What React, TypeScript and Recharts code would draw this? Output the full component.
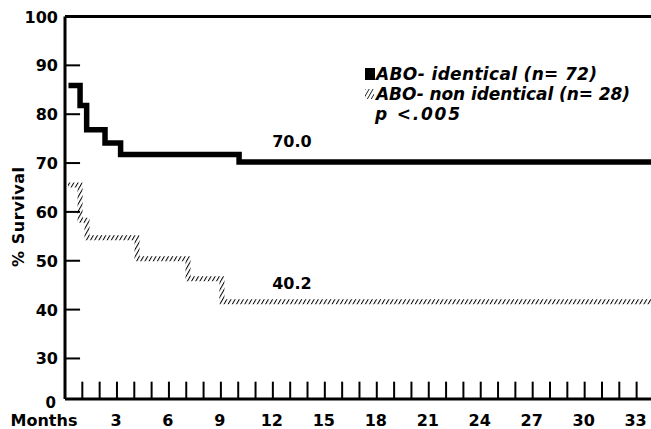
import React from 'react';
import { LineChart, Line, XAxis, YAxis, ReferenceLine, ReferenceDot } from 'recharts';

// survival curves (months, % survival)
const identicalMonths = [0.2, 0.87, 1.25, 2.31, 3.21, 10.05, 33.83];
const identicalSurvival = [85.9, 81.8, 76.8, 74.1, 71.75, 70.2, 70.2];
const nonIdenticalMonths = [0.17, 0.87, 1.27, 4.16, 7.1, 9.06, 33.83];
const nonIdenticalSurvival = [65.5, 58.3, 54.7, 50.4, 46.3, 41.6, 41.6];

const monthTicks = [0, 3, 6, 9, 12, 15, 18, 21, 24, 27, 30, 33];
const monthMarks = [1, 2, 3, 4, 5, 6, 7, 8, 9, 10, 11, 12, 13, 14, 15, 16, 17, 18, 19, 20, 21, 22, 23, 24, 25, 26, 27, 28, 29, 30, 31, 32, 33];
const survivalTicks = [21.7, 30, 40, 50, 60, 70, 80, 90, 100];
const survivalMarks = [30, 40, 50, 60, 70, 80, 90];

const identicalData = identicalMonths.map((m, i) => ({ m, v: identicalSurvival[i] }));
const nonIdenticalData = nonIdenticalMonths.map((m, i) => ({ m, v: nonIdenticalSurvival[i] }));

const FONT = "'DejaVu Sans', sans-serif";
const Y_MIN = 21.7;
const X_MAX = 33.83;

const YTick = (props: any) => {
  const { x, y, payload } = props;
  const isZero = payload.value === Y_MIN;
  return (
    <text
      x={isZero ? x - 2 : x}
      y={isZero ? y + 9 : y + 6}
      textAnchor="end"
      fontFamily={FONT}
      fontWeight="bold"
      fontSize={isZero ? 15 : 16}
      fill="#000"
    >
      {isZero ? '0' : payload.value}
    </text>
  );
};

const XTick = (props: any) => {
  const { x, y, payload } = props;
  const isStart = payload.value === 0;
  return (
    <text
      x={isStart ? x - 21 : x - 1}
      y={y + 27}
      textAnchor="middle"
      fontFamily={FONT}
      fontWeight="bold"
      fontSize={16}
      fill="#000"
    >
      {isStart ? 'Months' : payload.value}
    </text>
  );
};

const labelStyle = {
  fill: '#000',
  fontFamily: FONT,
  fontWeight: 'bold',
  fontSize: 16,
};

export default function App() {
  return (
    <div style={{ position: 'absolute', left: 0, top: 0, width: 651, height: 429, background: '#fff', overflow: 'hidden' }}>
      <LineChart width={651} height={429} data={identicalData} margin={{ top: 16.5, right: 0, bottom: 0, left: 0 }}>
        <defs>
          <pattern id="hatch" patternUnits="userSpaceOnUse" width="3.6" height="3.6" patternTransform="rotate(30)">
            <line x1="0" y1="0" x2="0" y2="3.6" stroke="#000" strokeWidth="2" />
          </pattern>
        </defs>
        <XAxis
          dataKey="m"
          type="number"
          domain={[0, X_MAX]}
          ticks={monthTicks}
          tick={<XTick />}
          tickLine={false}
          tickSize={0}
          tickMargin={0}
          height={30}
          axisLine={{ stroke: '#000', strokeWidth: 3 }}
          allowDataOverflow
        />
        <YAxis
          type="number"
          domain={[Y_MIN, 100]}
          ticks={survivalTicks}
          tick={<YTick />}
          tickLine={false}
          tickSize={0}
          tickMargin={7}
          width={65}
          axisLine={{ stroke: '#000', strokeWidth: 3 }}
          allowDataOverflow
        />
        <ReferenceLine y={100} stroke="#000" strokeWidth={3} />
        {monthMarks.map((m) => (
          <ReferenceLine
            key={'mx' + m}
            segment={[{ x: m, y: Y_MIN }, { x: m, y: Y_MIN + 3.55 }]}
            stroke="#000"
            strokeWidth={2}
          />
        ))}
        {survivalMarks.map((v) => (
          <ReferenceLine
            key={'my' + v}
            segment={[{ x: 0, y: v }, { x: 0.87, y: v }]}
            stroke="#000"
            strokeWidth={2}
          />
        ))}
        <Line
          data={identicalData}
          dataKey="v"
          type="stepAfter"
          stroke="#000"
          strokeWidth={5.5}
          strokeLinejoin="miter"
          strokeLinecap="butt"
          dot={false}
          isAnimationActive={false}
        />
        <Line
          data={nonIdenticalData}
          dataKey="v"
          type="stepAfter"
          stroke="url(#hatch)"
          strokeWidth={5}
          strokeLinejoin="miter"
          strokeLinecap="butt"
          dot={false}
          isAnimationActive={false}
        />
        <ReferenceDot x={13.1} y={74.5} r={0} fill="none" stroke="none" label={{ value: '70.0', position: 'center', ...labelStyle }} />
        <ReferenceDot x={13.1} y={45.4} r={0} fill="none" stroke="none" label={{ value: '40.2', position: 'center', ...labelStyle }} />
      </LineChart>
      <svg width={651} height={429} style={{ position: 'absolute', left: 0, top: 0, pointerEvents: 'none' }}>
        <defs>
          <pattern id="hatchIcon" patternUnits="userSpaceOnUse" width="3.4" height="3.4" patternTransform="rotate(30)">
            <line x1="0" y1="0" x2="0" y2="3.4" stroke="#000" strokeWidth="1.5" />
          </pattern>
        </defs>
        <text
          x={18}
          y={217}
          transform="rotate(-90 18 217)"
          textAnchor="middle"
          dominantBaseline="central"
          fontFamily={FONT}
          fontWeight="bold"
          fontSize={16}
          textLength={100}
          fill="#000"
        >
          % Survival
        </text>
        <rect x={365} y={68} width={10} height={12} fill="#000" />
        <text x={376} y={80} fontFamily={FONT} fontWeight="bold" fontStyle="italic" fontSize={17} textLength={221} fill="#000">
          ABO- identical (n= 72)
        </text>
        <rect x={365} y={89} width={9} height={10} fill="url(#hatchIcon)" />
        <text x={376} y={100} fontFamily={FONT} fontWeight="bold" fontStyle="italic" fontSize={17} textLength={254} fill="#000">
          ABO- non identical (n= 28)
        </text>
        <text x={375} y={120} fontFamily={FONT} fontWeight="bold" fontStyle="italic" fontSize={17} textLength={85} fill="#000">
          p &lt;.005
        </text>
      </svg>
    </div>
  );
}
